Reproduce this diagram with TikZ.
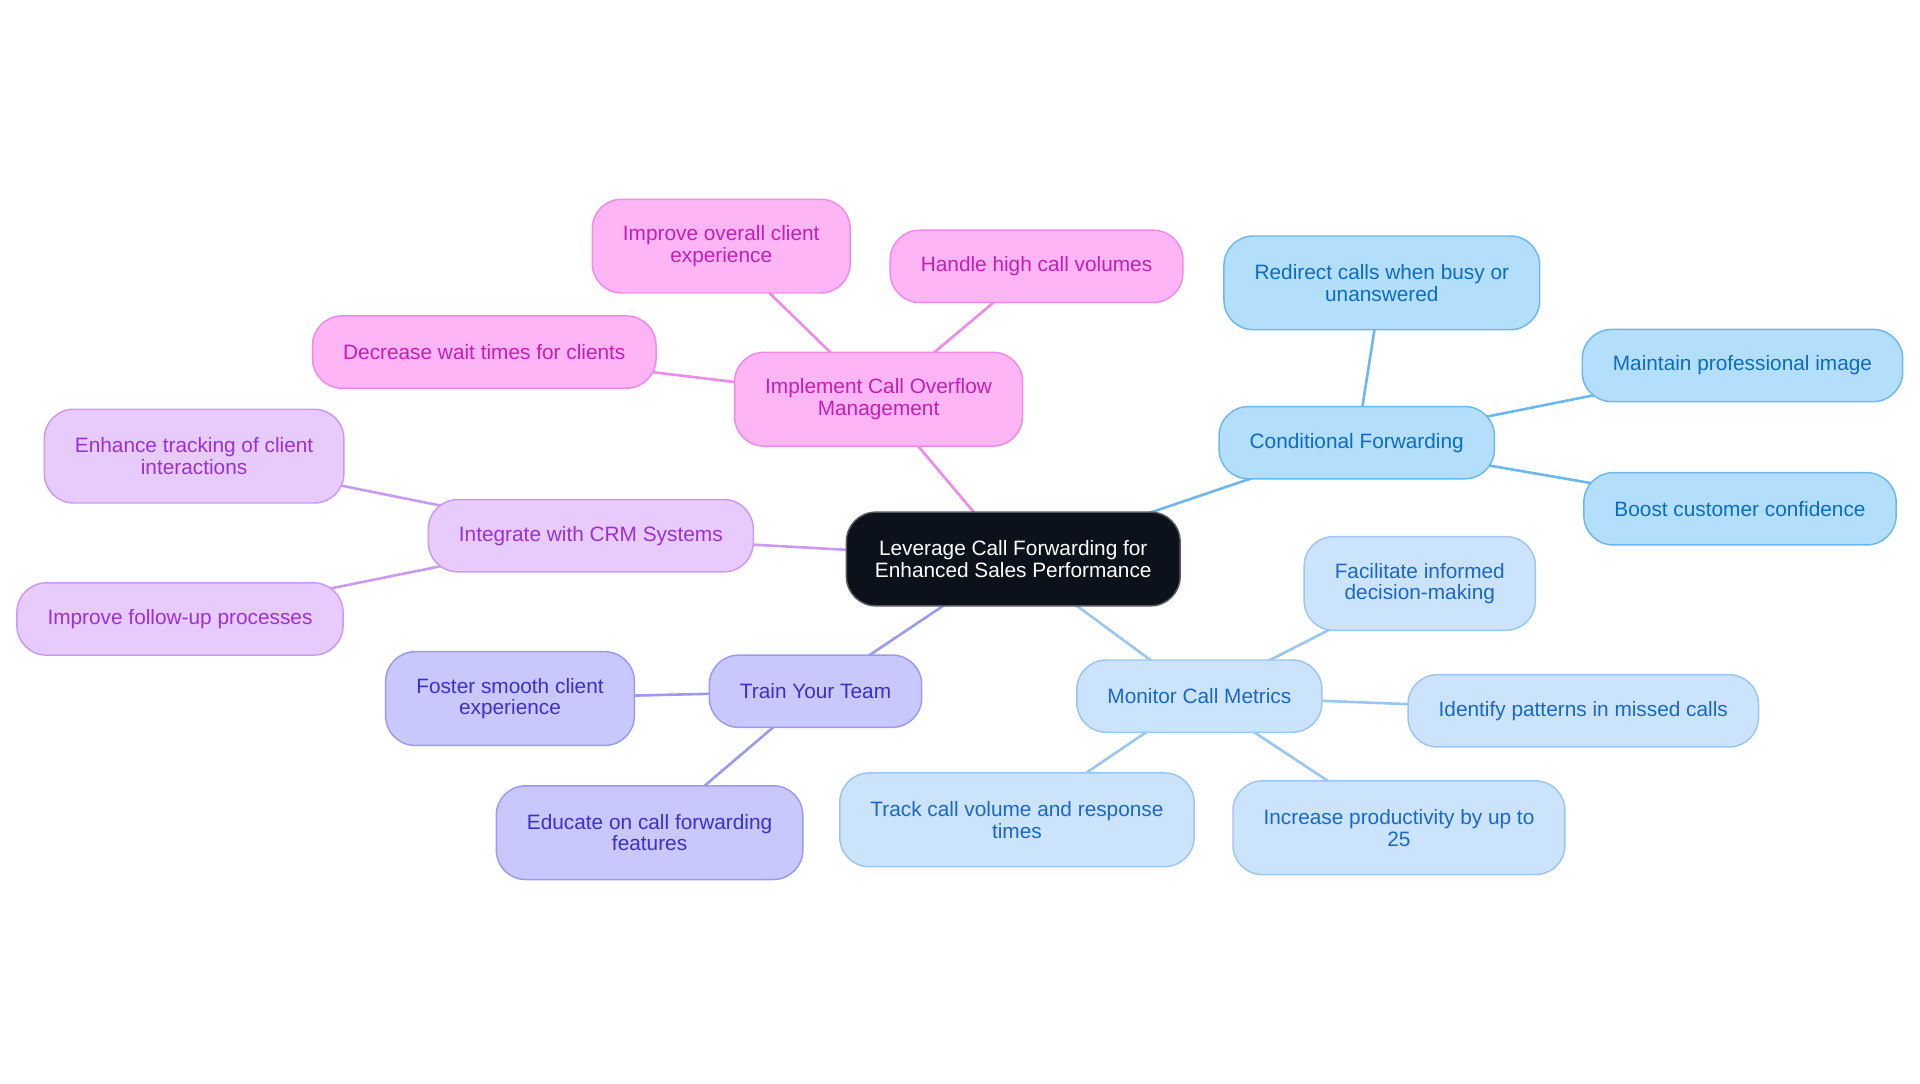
\documentclass[tikz,border=0pt]{standalone}
\usepackage{fontspec}
\setmainfont{Liberation Sans}
\usetikzlibrary{backgrounds}

\definecolor{coreFill}{HTML}{0C121C}
\definecolor{pinkFill}{HTML}{FDB5F5}
\definecolor{pinkLine}{HTML}{F08AE8}
\definecolor{pinkText}{HTML}{C41FB5}
\definecolor{blueFill}{HTML}{B3DFFD}
\definecolor{blueLine}{HTML}{6CB8EE}
\definecolor{blueText}{HTML}{0B6CC1}
\definecolor{skyFill}{HTML}{CCE3FC}
\definecolor{skyLine}{HTML}{9CC5F0}
\definecolor{skyText}{HTML}{1A68C6}
\definecolor{indFill}{HTML}{C8C8FD}
\definecolor{indLine}{HTML}{9A9AF0}
\definecolor{indText}{HTML}{3B30C8}
\definecolor{purFill}{HTML}{E8CBFD}
\definecolor{purLine}{HTML}{CA99F0}
\definecolor{purText}{HTML}{9B30D6}

\begin{document}
\begin{tikzpicture}[x=0.75pt,y=0.75pt,yscale=-1,xscale=1,
    mapbox/.style={rounded corners=18pt, inner xsep=18.75pt, inner ysep=0pt, align=center,
        line width=0.9pt, font=\fontsize{12.75}{13.3}\selectfont},
    oneline/.style={minimum height=44.25pt},
    twoline/.style={minimum height=57.4pt},
    corebox/.style={mapbox, twoline, fill=coreFill, draw=coreFill!70!white, text=white, inner xsep=17.5pt},
    pinkbox/.style={mapbox, fill=pinkFill, draw=pinkLine, text=pinkText},
    bluebox/.style={mapbox, fill=blueFill, draw=blueLine, text=blueText},
    skybox/.style={mapbox, fill=skyFill, draw=skyLine, text=skyText},
    indbox/.style={mapbox, fill=indFill, draw=indLine, text=indText},
    purbox/.style={mapbox, fill=purFill, draw=purLine, text=purText},
    pinkedge/.style={draw=pinkLine, line width=1.6pt},
    blueedge/.style={draw=blueLine, line width=1.6pt},
    skyedge/.style={draw=skyLine, line width=1.6pt},
    indedge/.style={draw=indLine, line width=1.6pt},
    puredge/.style={draw=purLine, line width=1.6pt}]
            %set diagram size to 1568 x 884.5
            \path[use as bounding box] (0,0) rectangle (1568,884.5);

            % Core Node
            \node[corebox] (lev) at (827.5,456.5) {Leverage Call Forwarding for\\Enhanced Sales Performance};

            % Overflow branch
            \node[pinkbox, twoline] (ovf) at (717.5,326) {Implement Call Overflow\\Management};
            \node[pinkbox, twoline] (ovfExp) at (589,201) {Improve overall client\\experience};
            \node[pinkbox, oneline] (ovfVol) at (846.5,217.5) {Handle high call volumes};
            \node[pinkbox, oneline] (ovfWait) at (395.5,287.5) {Decrease wait times for clients};

            % Conditional branch
            \node[bluebox, oneline] (cond) at (1108,361.5) {Conditional Forwarding};
            \node[bluebox, twoline] (condBusy) at (1128.5,231) {Redirect calls when busy or\\unanswered};
            \node[bluebox, oneline] (condImg) at (1423,298.5) {Maintain professional image};
            \node[bluebox, oneline] (condConf) at (1421,415.5) {Boost customer confidence};

            % Metrics branch
            \node[skybox, oneline] (met) at (979.5,568.5) {Monitor Call Metrics};
            \node[skybox, twoline] (metDec) at (1159.5,476.5) {Facilitate informed\\decision-making};
            \node[skybox, oneline] (metMiss) at (1293,580.5) {Identify patterns in missed calls};
            \node[skybox, twoline] (metProd) at (1142.5,676) {Increase productivity by up to\\25};
            \node[skybox, twoline] (metVol) at (830.5,669.5) {Track call volume and response\\times};

            % Team branch
            \node[indbox, oneline] (team) at (666,564.5) {Train Your Team};
            \node[indbox, twoline] (teamExp) at (416.5,570.5) {Foster smooth client\\experience};
            \node[indbox, twoline] (teamEdu) at (530.5,680) {Educate on call forwarding\\features};

            % CRM branch
            \node[purbox, oneline] (crm) at (482.5,437.5) {Integrate with CRM Systems};
            \node[purbox, twoline] (crmTrack) at (158.5,372.5) {Enhance tracking of client\\interactions};
            \node[purbox, oneline] (crmFollow) at (147,505.5) {Improve follow-up processes};

            %Straight Lines, centre to centre behind the boxes
            \begin{scope}[on background layer]
            \draw[pinkedge] (lev.center) -- (ovf.center);
            \draw[pinkedge] (ovf.center) -- (ovfExp.center);
            \draw[pinkedge] (ovf.center) -- (ovfVol.center);
            \draw[pinkedge] (ovf.center) -- (ovfWait.center);
            \draw[blueedge] (lev.center) -- (cond.center);
            \draw[blueedge] (cond.center) -- (condBusy.center);
            \draw[blueedge] (cond.center) -- (condImg.center);
            \draw[blueedge] (cond.center) -- (condConf.center);
            \draw[skyedge] (lev.center) -- (met.center);
            \draw[skyedge] (met.center) -- (metDec.center);
            \draw[skyedge] (met.center) -- (metMiss.center);
            \draw[skyedge] (met.center) -- (metProd.center);
            \draw[skyedge] (met.center) -- (metVol.center);
            \draw[indedge] (lev.center) -- (team.center);
            \draw[indedge] (team.center) -- (teamExp.center);
            \draw[indedge] (team.center) -- (teamEdu.center);
            \draw[puredge] (lev.center) -- (crm.center);
            \draw[puredge] (crm.center) -- (crmTrack.center);
            \draw[puredge] (crm.center) -- (crmFollow.center);
            \end{scope}

        \end{tikzpicture}
\end{document}
